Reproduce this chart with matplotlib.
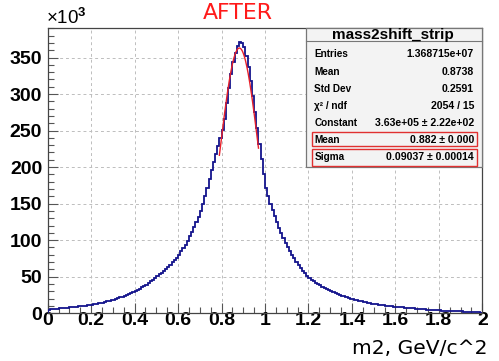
import numpy as np
import matplotlib
matplotlib.use("Agg")
import matplotlib.pyplot as plt
from matplotlib.patches import Rectangle
from matplotlib.ticker import MultipleLocator

plt.rcParams["font.family"] = ["Liberation Sans", "DejaVu Sans"]
plt.rcParams["font.weight"] = "bold"
plt.rcParams["mathtext.fontset"] = "custom"
plt.rcParams["mathtext.rm"] = "Liberation Sans"
plt.rcParams["mathtext.it"] = "Liberation Sans:italic"
plt.rcParams["mathtext.bf"] = "Liberation Sans:bold"

# ---- data (counts in units of 10^3, 200 bins of width 0.01 on [0, 2]) ----
bin_edges_lo = 0.0
bin_edges_hi = 2.0
counts_k = [
    5.0, 5.3, 5.6, 5.9, 6.2, 6.5, 6.8, 7.1, 7.4, 7.7,
    8.0, 8.3, 8.6, 8.9, 9.2, 9.5, 9.9, 10.3, 10.7, 11.1,
    11.5, 12.1, 12.7, 13.3, 13.9, 14.5, 15.3, 16.1, 16.9, 17.7,
    18.5, 19.5, 20.5, 21.5, 22.5, 23.5, 24.8, 26.1, 27.4, 28.7,
    30.0, 31.7, 33.5, 35.3, 37.1, 39.0, 41.3, 43.7, 46.1, 48.5,
    51.0, 53.3, 55.6, 58.0, 60.4, 63.0, 66.2, 69.5, 72.8, 76.2,
    80.0, 84.5, 89.0, 94.0, 99.3, 105.0, 111.5, 118.0, 125.0, 132.3,
    140, 150, 161, 172, 184, 196, 207, 218, 229, 240,
    251, 266, 288, 308, 327, 344, 356, 366, 371, 370,
    364, 352, 337, 318, 297, 275, 254, 232, 211, 190,
    172, 160, 150, 141, 133, 125, 117, 110, 103, 96,
    90, 85, 80, 75, 70, 66, 62, 58, 55, 51,
    48, 46, 44, 42, 40, 38, 36.4, 34.8, 33.2, 31.6,
    30, 28.8, 27.6, 26.4, 25.2, 24, 23, 22, 21, 20,
    19, 18.3, 17.6, 16.9, 16.2, 15.5, 14.9, 14.3, 13.7, 13.1,
    12.5, 12.1, 11.7, 11.3, 10.9, 10.5, 10.2, 9.8, 9.5, 9.1,
    8.8, 8.5, 8.2, 7.9, 7.6, 7.3, 7.0, 6.8, 6.5, 6.3,
    6.0, 5.8, 5.5, 5.3, 5.0, 4.8, 4.6, 4.4, 4.1, 3.9,
    3.7, 3.6, 3.4, 3.3, 3.1, 3.0, 2.9, 2.8, 2.6, 2.5,
    2.4, 2.2, 2.1, 1.9, 1.8, 1.6, 1.5, 1.3, 1.1, 0.9,
]

# Gaussian fit parameters (from stats box)
fit_constant_k = 363.0
fit_mean = 0.882
fit_sigma = 0.09037
fit_range = [0.79, 0.97]

stats_labels = ["Entries", "Mean", "Std Dev", "\u03c7\u00b2 / ndf", "Constant", "Mean", "Sigma"]
stats_values = ["1.368715e+07", "0.8738", "0.2591", "2054 / 15",
                "3.63e+05 \u00b1 2.22e+02", "0.882 \u00b1 0.000", "0.09037 \u00b1 0.00014"]
x_ticks = [0, 0.2, 0.4, 0.6, 0.8, 1, 1.2, 1.4, 1.6, 1.8, 2]
x_ticklabels = ["0", "0.2", "0.4", "0.6", "0.8", "1", "1.2", "1.4", "1.6", "1.8", "2"]
y_ticks = [0, 50, 100, 150, 200, 250, 300, 350]
y_ticklabels = ["0", "50", "100", "150", "200", "250", "300", "350"]

W, H = 499, 361
fig = plt.figure(figsize=(W / 100, H / 100), dpi=100)
fig.patch.set_facecolor("white")

def fx(px):
    return px / W

def fy(py):
    return 1 - py / H

L, R, T, B = 47.7, 482.3, 28.3, 313.2
ax = fig.add_axes([fx(L), fy(B), fx(R) - fx(L), fy(T) - fy(B)])

edges = np.linspace(bin_edges_lo, bin_edges_hi, len(counts_k) + 1)
ax.stairs(counts_k, edges, color="#14148c", linewidth=1.3, zorder=3)

xf = np.linspace(fit_range[0], fit_range[1], 200)
yf = fit_constant_k * np.exp(-0.5 * ((xf - fit_mean) / fit_sigma) ** 2)
ax.plot(xf, yf, color="#e8202a", linewidth=1.0, zorder=4)

ax.set_xlim(0, 2)
ax.set_ylim(0, 390)
ax.set_xticks(x_ticks, x_ticklabels, fontsize=14, fontweight="bold")
ax.set_yticks(y_ticks, y_ticklabels, fontsize=14, fontweight="bold")
ax.xaxis.set_minor_locator(MultipleLocator(0.05))
ax.yaxis.set_minor_locator(MultipleLocator(10))
ax.tick_params(which="major", direction="in", length=7, width=0.8, color="#555555")
ax.tick_params(which="minor", direction="in", length=4, width=0.8, color="#555555")
ax.tick_params(axis="y", which="major", pad=4)
ax.tick_params(axis="x", which="major", pad=-1)
ax.grid(True, which="major", color="#bdbdbd", linestyle=(0, (3, 3)), linewidth=0.7, zorder=0)
for s in ax.spines.values():
    s.set_color("#444444")
    s.set_linewidth(0.9)

fig.text(fx(46), fy(18), "\u00d710$^{3}$", fontsize=13.5, weight="normal",
         ha="left", va="center")
fig.text(fx(238), fy(13), "AFTER", color="#ff1a1a", fontsize=15.8, family="DejaVu Sans",
         weight="normal", ha="center", va="center")
fig.text(fx(487), fy(349), "m2, GeV/c^2", fontsize=14.6, family="DejaVu Sans",
         weight="normal", ha="right", va="center")

# stats box
bx0, bx1, by0, by1 = 305.5, 482.3, 28.3, 166.7
fig.patches.append(Rectangle((fx(bx0), fy(by1)), fx(bx1) - fx(bx0), fy(by0) - fy(by1),
                             transform=fig.transFigure, facecolor="#f3f3f3",
                             edgecolor="#777777", linewidth=0.9, zorder=5))
fig.add_artist(plt.Line2D([fx(bx0), fx(bx1)], [fy(40.7), fy(40.7)],
                          transform=fig.transFigure, color="#777777", linewidth=0.8, zorder=6))
fig.text(fx(393), fy(34.5), "mass2shift_strip", fontsize=11,
         weight="bold", ha="center", va="center", zorder=7)
row_y = [54.3, 71.6, 88.6, 105.7, 123.0, 139.6, 157.0]
for lab, val, yy in zip(stats_labels, stats_values, row_y):
    fig.text(fx(314.5), fy(yy), lab, fontsize=7.2,
             weight="bold", ha="left", va="center", zorder=7)
    fig.text(fx(474), fy(yy), val, fontsize=7.6,
             weight="bold", ha="right", va="center", zorder=7)
for (y0, y1) in [(131.7, 146.0), (148.6, 165.6)]:
    fig.patches.append(Rectangle((fx(311.7), fy(y1)), fx(476.7) - fx(311.7), fy(y0) - fy(y1),
                                 transform=fig.transFigure, facecolor="none",
                                 edgecolor="#e03030", linewidth=1.0, zorder=8))

fig.savefig("out.png", dpi=100)
